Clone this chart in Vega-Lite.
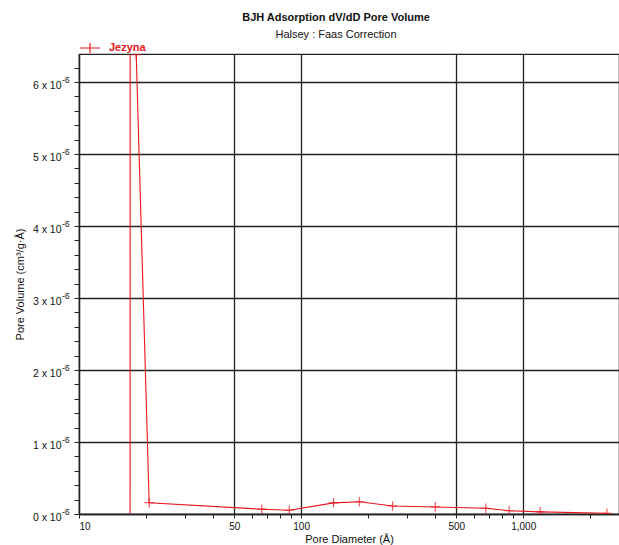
{
  "$schema": "https://vega.github.io/schema/vega-lite/v6.json",
  "autosize": {"type": "none"},
  "padding": {"left": 79, "top": 54, "right": 0, "bottom": 31},
  "width": 540,
  "height": 460,
  "background": "white",
  "title": {
    "text": "BJH Adsorption dV/dD Pore Volume",
    "subtitle": "Halsey : Faas Correction",
    "anchor": "middle",
    "frame": "group",
    "dx": -13,
    "font": "Liberation Sans",
    "subtitleFont": "Liberation Sans",
    "fontSize": 11,
    "fontWeight": "bold",
    "subtitleFontSize": 11,
    "subtitlePadding": 6,
    "offset": -3,
    "color": "#111111",
    "subtitleColor": "#111111"
  },
  "config": {
    "font": "Liberation Sans",
    "view": {"stroke": "#222222", "strokeWidth": 1.2}
  },
  "datasets": {
    "pores": [
      {"series": "Jezyna", "d": 16.98, "v": -2e-7},
      {"series": "Jezyna", "d": 17.0, "v": 9e-6},
      {"series": "Jezyna", "d": 18.1, "v": 6.38e-6},
      {"series": "Jezyna", "d": 20.7, "v": 1.57e-7},
      {"series": "Jezyna", "d": 66.5, "v": 6.7e-8},
      {"series": "Jezyna", "d": 88.5, "v": 5.2e-8},
      {"series": "Jezyna", "d": 140, "v": 1.55e-7},
      {"series": "Jezyna", "d": 183, "v": 1.7e-7},
      {"series": "Jezyna", "d": 258, "v": 1.12e-7},
      {"series": "Jezyna", "d": 402, "v": 9.8e-8},
      {"series": "Jezyna", "d": 679, "v": 8e-8},
      {"series": "Jezyna", "d": 865, "v": 4.5e-8},
      {"series": "Jezyna", "d": 1193, "v": 3e-8},
      {"series": "Jezyna", "d": 2383, "v": 1e-8}
    ],
    "exponents": [
      {"d": 10, "v": 0, "label": "-6"},
      {"d": 10, "v": 1e-6, "label": "-6"},
      {"d": 10, "v": 2e-6, "label": "-6"},
      {"d": 10, "v": 3e-6, "label": "-6"},
      {"d": 10, "v": 4e-6, "label": "-6"},
      {"d": 10, "v": 5e-6, "label": "-6"},
      {"d": 10, "v": 6e-6, "label": "-6"}
    ]
  },
  "layer": [
    {
      "data": {"name": "pores"},
      "mark": {"type": "line", "color": "#e8141c", "strokeWidth": 1.1, "clip": true},
      "encoding": {
        "x": {
          "field": "d",
          "type": "quantitative",
          "scale": {"type": "log", "domain": [10, 2700], "nice": false},
          "axis": {
            "orient": "bottom",
            "values": [10, 50, 100, 500, 1000],
            "format": ",",
            "grid": true,
            "gridColor": "#222222",
            "gridWidth": 1.3,
            "domainColor": "#222222",
            "domainWidth": 1.3,
            "tickColor": "#222222",
            "tickSize": 4,
            "labelFontSize": 10,
            "labelColor": "#111111",
            "labelPadding": 3,
            "title": "Pore Diameter (Å)",
            "titleFontSize": 11,
            "titleFontWeight": "normal",
            "titleColor": "#111111",
            "titlePadding": 2
          }
        },
        "y": {
          "field": "v",
          "type": "quantitative",
          "scale": {"domain": [0, 6.39e-6], "nice": false, "zero": false},
          "axis": {
            "orient": "left",
            "values": [0, 1e-6, 2e-6, 3e-6, 4e-6, 5e-6, 6e-6],
            "labelExpr": "round(datum.value * 1e6) + ' x 10'",
            "grid": true,
            "gridColor": "#222222",
            "gridWidth": 1.3,
            "domainColor": "#222222",
            "domainWidth": 1.3,
            "tickColor": "#222222",
            "tickSize": 5,
            "labelFontSize": 10.5,
            "labelColor": "#111111",
            "labelPadding": 13,
            "labelOffset": 3.5,
            "title": "Pore Volume (cm³/g·Å)",
            "titleFontSize": 11,
            "titleFontWeight": "normal",
            "titleColor": "#111111",
            "titlePadding": 7
          }
        },
        "color": {
          "field": "series",
          "type": "nominal",
          "scale": {"range": ["#e8141c"]},
          "legend": {
            "orient": "none",
            "legendX": 0,
            "legendY": -17,
            "padding": 0,
            "title": null,
            "symbolType": "M-1,0L1,0M0,-0.5L0,0.5",
            "symbolSize": 400,
            "symbolStrokeWidth": 1.2,
            "symbolFillColor": "transparent",
            "labelColor": "#e8141c",
            "labelFontWeight": "bold",
            "labelFontSize": 11,
            "labelOffset": 8
          }
        }
      }
    },
    {
      "data": {"name": "pores"},
      "mark": {
        "type": "point",
        "shape": "M-1,0L1,0M0,-1L0,1",
        "filled": false,
        "size": 90,
        "strokeWidth": 1.2,
        "color": "#e8141c",
        "clip": true
      },
      "encoding": {
        "x": {
          "field": "d",
          "type": "quantitative",
          "scale": {"type": "log", "domain": [10, 2700], "nice": false},
          "axis": {
            "orient": "bottom",
            "values": [20, 30, 40, 60, 70, 80, 90, 200, 300, 400, 600, 700, 800, 900, 2000],
            "labels": false,
            "grid": false,
            "domain": false,
            "tickColor": "#222222",
            "tickSize": 4,
            "title": null
          }
        },
        "y": {
          "field": "v",
          "type": "quantitative",
          "scale": {"domain": [0, 6.39e-6], "nice": false, "zero": false},
          "axis": {
            "orient": "left",
            "values": [2e-7, 4e-7, 6e-7, 8e-7, 1.2e-6, 1.4e-6, 1.6e-6, 1.8e-6, 2.2e-6, 2.4e-6, 2.6e-6, 2.8e-6, 3.2e-6, 3.4e-6, 3.6e-6, 3.8e-6, 4.2e-6, 4.4e-6, 4.6e-6, 4.8e-6, 5.2e-6, 5.4e-6, 5.6e-6, 5.8e-6, 6.2e-6],
            "labels": false,
            "grid": false,
            "domain": false,
            "tickColor": "#222222",
            "tickSize": 5,
            "title": null
          }
        }
      }
    },
    {
      "data": {"name": "exponents"},
      "mark": {
        "type": "text",
        "align": "left",
        "baseline": "middle",
        "dx": -17,
        "dy": -2,
        "fontSize": 8.5,
        "color": "#111111"
      },
      "encoding": {
        "x": {
          "field": "d",
          "type": "quantitative",
          "scale": {"type": "log", "domain": [10, 2700], "nice": false},
          "axis": null
        },
        "y": {
          "field": "v",
          "type": "quantitative",
          "scale": {"domain": [0, 6.39e-6], "nice": false, "zero": false},
          "axis": null
        },
        "text": {"field": "label"}
      }
    }
  ],
  "resolve": {"axis": {"x": "independent", "y": "independent"}}
}
